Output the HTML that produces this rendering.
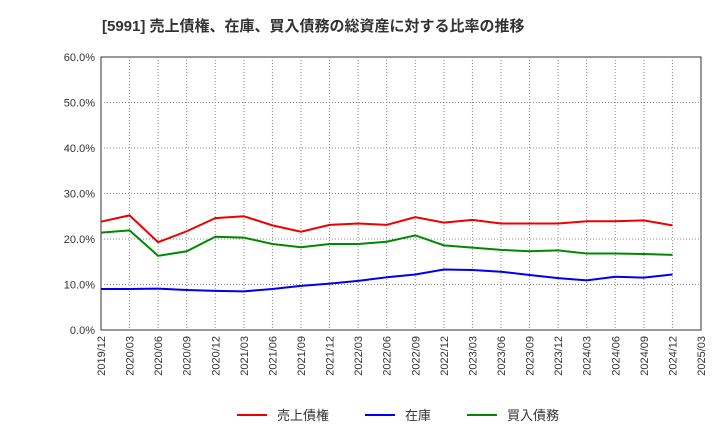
<!DOCTYPE html>
<html><head><meta charset="utf-8"><style>
body{margin:0;background:#fff;font-family:"Liberation Sans","Noto Sans CJK JP",sans-serif;}
svg text{font-family:"Liberation Sans","Noto Sans CJK JP",sans-serif;}
</style></head><body>
<svg id="c" width="720" height="440" xmlns="http://www.w3.org/2000/svg">
<text x="102" y="31" font-size="15" font-weight="bold" fill="#333">[5991]  売上債権、在庫、買入債務の総資産に対する比率の推移</text>
<rect x="101" y="57" width="600" height="273" fill="#fff" stroke="#333"/>
<g id="grid"></g><g id="axes"></g><g id="series"></g>
<g>
<line x1="237" y1="415" x2="267" y2="415" stroke="#e00" stroke-width="2"/>
<text x="277" y="420" font-size="13" fill="#333">売上債権</text>
<line x1="365" y1="415" x2="395" y2="415" stroke="#00e" stroke-width="2"/>
<text x="405" y="420" font-size="13" fill="#333">在庫</text>
<line x1="467" y1="415" x2="497" y2="415" stroke="#080" stroke-width="2"/>
<text x="507" y="420" font-size="13" fill="#333">買入債務</text>
</g>
</svg>
<script>
const xLabels=["2019/12","2020/03","2020/06","2020/09","2020/12","2021/03","2021/06","2021/09","2021/12","2022/03","2022/06","2022/09","2022/12","2023/03","2023/06","2023/09","2023/12","2024/03","2024/06","2024/09","2024/12","2025/03"];
const yTicks=[0,10,20,30,40,50,60];
const receivables=[23.8,25.2,19.3,21.7,24.6,25.0,23.0,21.6,23.1,23.4,23.1,24.8,23.6,24.2,23.4,23.4,23.4,23.9,23.9,24.1,23.0];
const inventory=[9.0,9.0,9.1,8.8,8.6,8.5,9.0,9.7,10.2,10.8,11.6,12.2,13.3,13.2,12.8,12.1,11.4,10.9,11.7,11.5,12.2];
const payables=[21.4,21.9,16.3,17.3,20.5,20.3,18.9,18.2,18.9,18.9,19.4,20.8,18.6,18.1,17.6,17.3,17.5,16.8,16.8,16.7,16.5];
const NS="http://www.w3.org/2000/svg";
const L=101,R=701,T=57,B=330;
const xs=i=>L+(R-L)*i/(xLabels.length-1);
const ys=v=>B-(B-T)*v/60;
function mk(t,a,p){const e=document.createElementNS(NS,t);for(const k in a)e.setAttribute(k,a[k]);p.appendChild(e);return e;}
const g=document.getElementById('grid'),ax=document.getElementById('axes'),s=document.getElementById('series');
yTicks.forEach(v=>{
 if(v>0&&v<60){const l=mk('line',{x1:L,x2:R,y1:ys(v),y2:ys(v),stroke:'#888','stroke-dasharray':'1,2'},g);
 
 }
 const t=mk('text',{x:L-6,y:ys(v)+4,'text-anchor':'end','font-size':'11',fill:'#333'},ax);
 t.textContent=v.toFixed(1)+'%';
 
 
});
xLabels.forEach((lb,i)=>{
 const x=xs(i);
 if(i>0&&i<xLabels.length-1){const l=mk('line',{x1:x,x2:x,y1:T,y2:B,stroke:'#888','stroke-dasharray':'1,2'},g);
 
 }
 const t=mk('text',{x:x+4,y:B+6,'text-anchor':'end','font-size':'11',fill:'#333',transform:`rotate(-90 ${x+4} ${B+6})`},ax);
 t.textContent=lb;
 
 
});
[[receivables,'#e00','receivables-line'],[inventory,'#00e','inventory-line'],[payables,'#080','payables-line']].forEach(([d,c,n])=>{
 const p=mk('polyline',{points:d.map((v,i)=>xs(i)+','+ys(v)).join(' '),fill:'none',stroke:c,'stroke-width':2},s);
 
 
});
</script>
</body></html>
